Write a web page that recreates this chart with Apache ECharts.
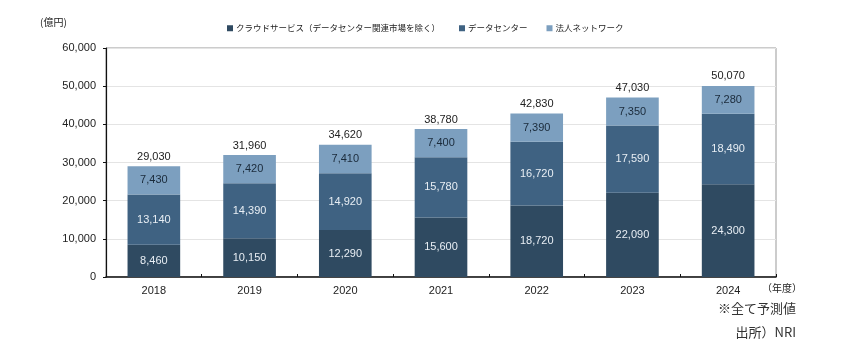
<!DOCTYPE html>
<html><head><meta charset="utf-8">
<script src="https://cdn.jsdelivr.net/npm/echarts@6/dist/echarts.min.js"></script>
<style>html,body{margin:0;padding:0;background:#fff}#c{width:866px;height:357px}</style>
</head><body><div id="c"></div>
<script>
const categories = ['2018','2019','2020','2021','2022','2023','2024'];
const cloud = [8460,10150,12290,15600,18720,22090,24300];
const datacenter = [13140,14390,14920,15780,16720,17590,18490];
const network = [7430,7420,7410,7400,7390,7350,7280];
const totals = [29030,31960,34620,38780,42830,47030,50070];
const seriesNames = ['クラウドサービス（データセンター関連市場を除く）','データセンター','法人ネットワーク'];
const yTicks = {min:0, max:60000, interval:10000};

const fmt = v => v.toLocaleString('en-US');
const font = '"Liberation Sans", Arial, sans-serif';
const jp = '"Noto Sans CJK JP", sans-serif';
const chart = echarts.init(document.getElementById('c'));
const segLabel = (color) => ({show:true, position:'inside', color, fontSize:11, fontFamily:font, formatter:p=>fmt(p.value)});
chart.setOption({
  animation:false,
  textStyle:{fontFamily:font},
  grid:{left:106, right:90, top:48, bottom:80, show:true, borderColor:'#999', borderWidth:1, backgroundColor:'transparent'},
  legend:{data:seriesNames, top:24, left:227, itemWidth:6, itemHeight:6, itemGap:19, icon:'rect', padding:0,
    textStyle:{fontSize:8.5, fontFamily:jp, color:'#222', padding:[0,0,0,-2]}},
  xAxis:{type:'category', data:categories,
    axisLine:{lineStyle:{color:'#111', width:1.5}},
    axisTick:{show:true, inside:true, length:3, lineStyle:{color:'#111'}},
    axisLabel:{fontSize:11, color:'#222', margin:8, fontFamily:font}},
  yAxis:{type:'value', min:yTicks.min, max:yTicks.max, interval:yTicks.interval,
    axisLine:{show:true, lineStyle:{color:'#111', width:1.2}},
    axisTick:{show:true, length:3, lineStyle:{color:'#111'}},
    splitLine:{lineStyle:{color:'#e4e4e4'}},
    axisLabel:{fontSize:11, color:'#222', margin:10, formatter:v=>fmt(v), fontFamily:font}},
  graphic:[
    {type:'text', left:40, top:17, style:{text:'(億円)', font:'10px '+jp, fill:'#222'}},
    {type:'text', left:762, top:283, style:{text:'（年度）', font:'10px '+jp, fill:'#222'}},
    {type:'text', right:70, top:302, style:{text:'※全て予測値', font:'13px '+jp, fill:'#333', textAlign:'right'}},
    {type:'text', right:70, top:326, style:{text:'出所）NRI', font:'13px '+jp, fill:'#333', textAlign:'right'}}
  ],
  series:[
    {name:seriesNames[0], type:'bar', stack:'a', data:cloud, barWidth:'55%', itemStyle:{color:'#2f4a61'}, label:segLabel('#e8eef4')},
    {name:seriesNames[1], type:'bar', stack:'a', data:datacenter, itemStyle:{color:'#3f6282'}, label:segLabel('#e8eef4')},
    {name:seriesNames[2], type:'bar', stack:'a', data:network, itemStyle:{color:'#7c9fbf'}, label:segLabel('#1a2a3a')},
    {name:'total', type:'bar', stack:'a', data:totals.map(()=>0), itemStyle:{color:'transparent'},
      label:{show:true, position:'top', distance:4, color:'#222', fontSize:11, fontFamily:font, formatter:p=>fmt(totals[p.dataIndex])}}
  ]
});
</script></body></html>
